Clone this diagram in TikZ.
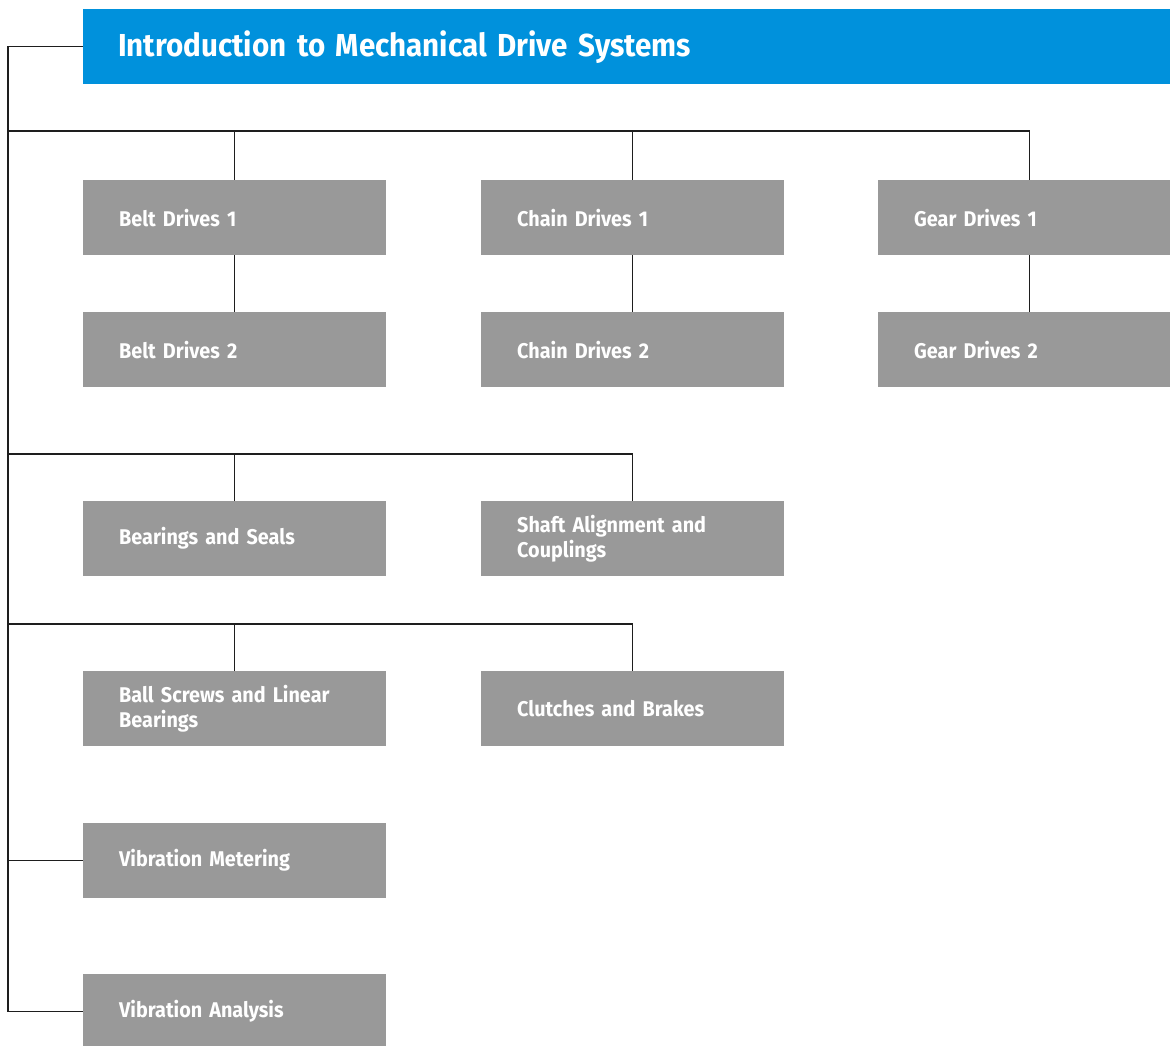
\documentclass[tikz,border=0pt]{standalone}
\usepackage{fontspec}
\setmainfont{Fira Sans}[FakeStretch=0.93]
\definecolor{titleblue}{RGB}{0,145,220}
\definecolor{boxgray}{RGB}{153,153,153}
\definecolor{linecol}{RGB}{30,30,30}
\begin{document}
\begin{tikzpicture}[x=1pt,y=-1pt,
  box/.style={fill=boxgray, text=white, anchor=north west, text width=231pt,
    inner xsep=36pt, inner ysep=0pt, minimum height=75pt, align=left,
    font=\fontsize{21.3}{25}\selectfont\bfseries},
  titlebox/.style={fill=titleblue, text=white, anchor=north west, text width=1030pt,
    inner xsep=35pt, inner ysep=0pt, minimum height=75pt, align=left,
    font=\fontsize{31.8}{36}\selectfont\bfseries},
  conn/.style={draw=linecol, line width=1.4pt}]
\useasboundingbox (0,0) rectangle (1170,1045);
\clip (0,0) rectangle (1170,1045);
\node[titlebox] (title) at (83,9) {Introduction to Mechanical Drive Systems};
\node[box] (belt1) at (83,180) {Belt Drives 1};
\node[box] (chain1) at (481,180) {Chain Drives 1};
\node[box] (gear1) at (878,180) {Gear Drives 1};
\node[box] (belt2) at (83,312) {Belt Drives 2};
\node[box] (chain2) at (481,312) {Chain Drives 2};
\node[box] (gear2) at (878,312) {Gear Drives 2};
\node[box] (bear) at (83,501) {Bearings and Seals};
\node[box] (shaft) at (481,501) {Shaft Alignment and\\Couplings};
\node[box] (ball) at (83,671) {Ball Screws and Linear\\Bearings};
\node[box] (clutch) at (481,671) {Clutches and Brakes};
\node[box] (vm) at (83,823) {Vibration Metering};
\node[box] (va) at (83,974) {Vibration Analysis};
\coordinate (sp) at (8,0);
\coordinate (bus1) at (8,131);
\coordinate (bus3) at (8,454);
\coordinate (bus4) at (8,624);
\draw[conn] (title.west) -| (sp |- va.west) -- (va.west);
\draw[conn] (sp |- vm.west) -- (vm.west);
\draw[conn] (bus1) -| (gear1.north);
\draw[conn] (bus1 -| belt1.north) -- (belt1.north);
\draw[conn] (bus1 -| chain1.north) -- (chain1.north);
\draw[conn] (belt1.south) -- (belt2.north);
\draw[conn] (chain1.south) -- (chain2.north);
\draw[conn] (gear1.south) -- (gear2.north);
\draw[conn] (bus3) -| (shaft.north);
\draw[conn] (bus3 -| bear.north) -- (bear.north);
\draw[conn] (bus4) -| (clutch.north);
\draw[conn] (bus4 -| ball.north) -- (ball.north);
\end{tikzpicture}
\end{document}
